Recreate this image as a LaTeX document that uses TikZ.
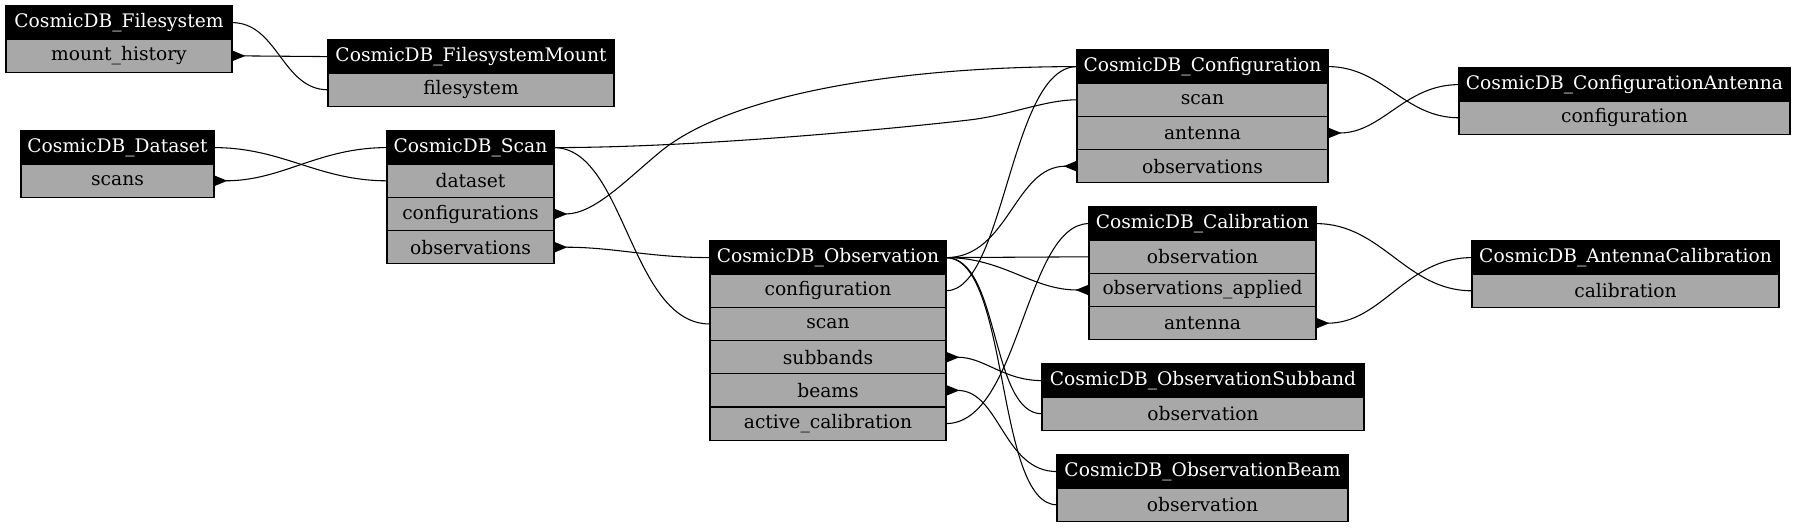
\documentclass[tikz,border=0pt]{standalone}
\usepackage{fontspec}
\setmainfont{DejaVu Serif}
\usetikzlibrary{positioning, arrows.meta}
\definecolor{rowgray}{HTML}{A8A8A8}

\begin{document}
\begin{tikzpicture}[
        x=0.75pt, y=-0.75pt,
        tblcell/.style={draw, line width=0.8pt, inner sep=0pt, outer sep=0pt, minimum height=24.9pt,
            font=\fontsize{14}{16}\selectfont},
        tblhead/.style={tblcell, fill=black, text=white, anchor=north west, minimum width=#1},
        tblrow/.style={tblcell, fill=rowgray, minimum width=#1},
        rel/.style={line width=0.8pt},
        relinv/.style={rel, -{Triangle[reversed, length=10pt, width=8pt]}}
    ]
        \useasboundingbox (0,0) rectangle (1796,528);

        % tables
        \node[tblhead=169.5pt] (fs) at (6,6) {CosmicDB\_Filesystem};
        \node[tblrow=169.5pt, below=0pt of fs] (fs1) {mount\_history};

        \node[tblhead=214.5pt] (fsm) at (328,40) {CosmicDB\_FilesystemMount};
        \node[tblrow=214.5pt, below=0pt of fsm] (fsm1) {filesystem};

        \node[tblhead=144.75pt] (ds) at (21,131) {CosmicDB\_Dataset};
        \node[tblrow=144.75pt, below=0pt of ds] (ds1) {scans};

        \node[tblhead=125.25pt] (scan) at (387,131) {CosmicDB\_Scan};
        \node[tblrow=125.25pt, below=0pt of scan]  (scan1) {dataset};
        \node[tblrow=125.25pt, below=0pt of scan1] (scan2) {configurations};
        \node[tblrow=125.25pt, below=0pt of scan2] (scan3) {observations};

        \node[tblhead=188.25pt] (conf) at (1077,50) {CosmicDB\_Configuration};
        \node[tblrow=188.25pt, below=0pt of conf]  (conf1) {scan};
        \node[tblrow=188.25pt, below=0pt of conf1] (conf2) {antenna};
        \node[tblrow=188.25pt, below=0pt of conf2] (conf3) {observations};

        \node[tblhead=248.25pt] (confant) at (1459,68) {CosmicDB\_ConfigurationAntenna};
        \node[tblrow=248.25pt, below=0pt of confant] (confant1) {configuration};

        \node[tblhead=177pt] (obs) at (710,241) {CosmicDB\_Observation};
        \node[tblrow=177pt, below=0pt of obs]  (obs1) {configuration};
        \node[tblrow=177pt, below=0pt of obs1] (obs2) {scan};
        \node[tblrow=177pt, below=0pt of obs2] (obs3) {subbands};
        \node[tblrow=177pt, below=0pt of obs3] (obs4) {beams};
        \node[tblrow=177pt, below=0pt of obs4] (obs5) {active\_calibration};

        \node[tblhead=170.25pt] (cal) at (1089,207) {CosmicDB\_Calibration};
        \node[tblrow=170.25pt, below=0pt of cal]  (cal1) {observation};
        \node[tblrow=170.25pt, below=0pt of cal1] (cal2) {observations\_applied};
        \node[tblrow=170.25pt, below=0pt of cal2] (cal3) {antenna};

        \node[tblhead=230.25pt] (antcal) at (1472,241) {CosmicDB\_AntennaCalibration};
        \node[tblrow=230.25pt, below=0pt of antcal] (antcal1) {calibration};

        \node[tblhead=241.5pt] (sub) at (1042,364) {CosmicDB\_ObservationSubband};
        \node[tblrow=241.5pt, below=0pt of sub] (sub1) {observation};

        \node[tblhead=218.25pt] (beam) at (1057,455) {CosmicDB\_ObservationBeam};
        \node[tblrow=218.25pt, below=0pt of beam] (beam1) {observation};

        % relations
        \draw[rel] (fs.east) to[out=0, in=180] (fsm1.west);
        \draw[relinv] (fsm.west) -- (fs1.east);
        \draw[rel] (ds.east) to[out=0, in=180] (scan1.west);
        \draw[relinv] (scan.west) to[out=180, in=0] (ds1.east);
        \draw[rel] (scan.east) .. controls +(146,0) and +(-69,8) .. (969,120)
            .. controls +(41,-4.75) and +(-32,0) .. (conf1.west);
        \draw[relinv] (conf.west) .. controls +(-177,0) and +(70,-58) .. (660,152)
            .. controls +(-35,29) and +(40,0) .. (scan2.east);
        \draw[rel] (scan.east) .. controls +(71,0) and +(-80,0) .. (obs2.west);
        \draw[relinv] (obs.west) to[out=180, in=0] (scan3.east);
        \draw[relinv] (obs.east) to[out=0, in=180] (conf3.west);
        \draw[rel] (conf.west) .. controls +(-67,0) and +(59,0) .. (obs1.east);
        \draw[rel] (conf.east) to[out=0, in=180] (confant1.west);
        \draw[relinv] (confant.west) to[out=180, in=0] (conf2.east);
        \draw[rel] (obs.east) -- (cal1.west);
        \draw[rel] (cal.west) .. controls +(-64,0) and +(74,0) .. (obs5.east);
        \draw[relinv] (obs.east) to[out=0, in=180] (cal2.west);
        \draw[rel] (cal.east) to[out=0, in=180] (antcal1.west);
        \draw[relinv] (antcal.west) to[out=180, in=0] (cal3.east);
        \draw[relinv] (sub.west) to[out=180, in=0] (obs3.east);
        \draw[rel] (obs.east) .. controls +(54,0) and +(-52,0) .. (sub1.west);
        \draw[relinv] (beam.west) to[out=180, in=0] (obs4.east);
        \draw[rel] (obs.east) .. controls +(64,0) and +(-62,0) .. (beam1.west);
    \end{tikzpicture}
\end{document}
